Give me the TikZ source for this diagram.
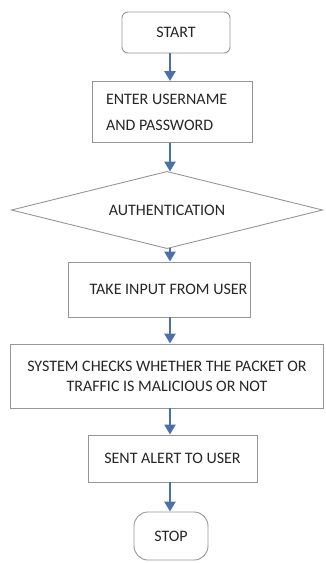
\documentclass[tikz,border=0pt]{standalone}
\usepackage{fontspec}
\setmainfont{Carlito}
\usetikzlibrary{arrows.meta}
\definecolor{flowblue}{RGB}{76,112,170}
\definecolor{boxgray}{RGB}{150,150,150}
\begin{document}
\begin{tikzpicture}[x=1pt,y=-1pt,%
% common options for boxes:
box/.style = {draw=boxgray, line width=0.9pt, align=center, inner sep=0,
            text=black!85, font=\fontsize{16}{20}\selectfont},
% common options for start and stop:
term/.style = {box, rounded corners=6pt},
% common options for the arrows:
flow/.style = {draw=flowblue, line width=2.8pt,
            -{Triangle[width=11pt,length=10pt]}}]
\useasboundingbox (0,0) rectangle (325,563);
\coordinate (spine) at (170,0);
\node[term, minimum width=108pt, minimum height=41pt] (start) at (176,32.5) {START};
\node[box, minimum width=160pt, minimum height=61pt, text width=132pt, align=flush left,
      font=\fontsize{16}{26}\selectfont] (login) at (172,112) {ENTER USERNAME\\AND PASSWORD};
\node[box, draw=none, minimum width=310pt, minimum height=76pt] (auth) at (167,210) {AUTHENTICATION};
\draw[boxgray, line width=0.9pt] (auth.north) -- (auth.east) -- (auth.south) -- (auth.west) -- cycle;
\node[box, minimum width=182pt, minimum height=55pt] (input) at (159,289.5) {\hspace*{19pt}TAKE INPUT FROM USER};
\node[box, minimum width=313pt, minimum height=64pt] (check) at (167,376) {SYSTEM CHECKS WHETHER THE PACKET OR\\TRAFFIC IS MALICIOUS OR NOT};
\node[box, minimum width=169pt, minimum height=47pt] (alert) at (172.5,458.5) {SENT ALERT TO USER};
\node[term, rounded corners=14pt, minimum width=74pt, minimum height=48pt] (stop) at (171,536) {STOP};
\draw[flow] (start.south -| spine) -- (login.north -| spine);
\draw[flow] (login.south -| spine) -- (auth.north -| spine);
\draw[flow] (auth.south -| spine) -- (input.north -| spine);
\draw[flow] (input.south -| spine) -- (check.north -| spine);
\draw[flow] (check.south -| spine) -- (alert.north -| spine);
\draw[flow] (alert.south -| spine) -- (stop.north -| spine);
\end{tikzpicture}
\end{document}
